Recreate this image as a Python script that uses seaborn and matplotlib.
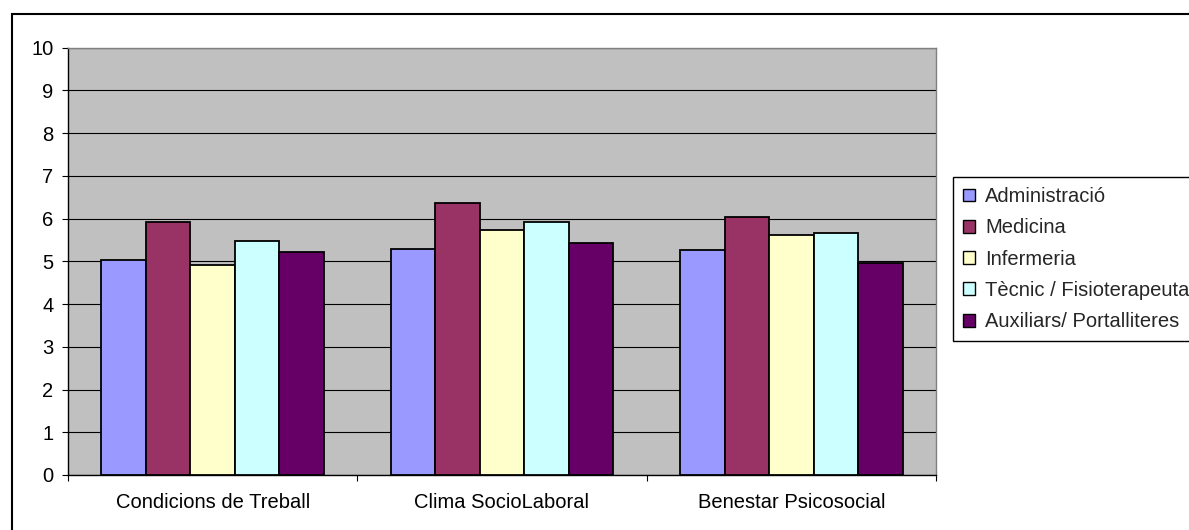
import matplotlib
matplotlib.use("Agg")
import matplotlib.pyplot as plt
from matplotlib.patches import Rectangle
import pandas as pd
import seaborn as sns

# Dimensions avaluades i grups professionals
categories = ["Condicions de Treball", "Clima SocioLaboral", "Benestar Psicosocial"]
grups = ["Administració", "Medicina", "Infermeria", "Tècnic / Fisioterapeuta",
         "Auxiliars/ Portalliteres"]

administracio = [5.03, 5.29, 5.26]
medicina = [5.92, 6.37, 6.04]
infermeria = [4.91, 5.74, 5.62]
tecnic = [5.48, 5.93, 5.67]
auxiliars = [5.22, 5.44, 4.96]

colors = ["#9999FF", "#993366", "#FFFFCC", "#CCFFFF", "#660066"]
y_ticks = list(range(0, 11))

series = [administracio, medicina, infermeria, tecnic, auxiliars]
rows = []
for grup, valors in zip(grups, series):
    for cat, v in zip(categories, valors):
        rows.append({"categoria": cat, "grup": grup, "valor": v})
df = pd.DataFrame(rows)

sns.set_theme(style="white")
plt.rcParams["font.family"] = ["Liberation Sans", "DejaVu Sans"]
FS = 14.5

fig = plt.figure(figsize=(11.89, 5.30), dpi=100)
ax = fig.add_axes([68 / 1189, 1 - 475 / 530, (936 - 68) / 1189, (475 - 47.7) / 530])
ax.set_facecolor("#C0C0C0")

sns.barplot(data=df, x="categoria", y="valor", hue="grup", order=categories,
            hue_order=grups, palette=colors, width=5 / 6.5, gap=0,
            edgecolor="black", linewidth=1.3, errorbar=None, saturation=1,
            ax=ax, zorder=3)

ax.set_ylim(0, 10)
ax.set_xlim(-0.5, 2.5)
ax.set_yticks(y_ticks)
ax.yaxis.grid(True, color="black", linewidth=0.8, zorder=0)
ax.set_axisbelow(True)
ax.set_xlabel("")
ax.set_ylabel("")

ax.tick_params(axis="y", which="major", left=True, length=4.5, width=0.8,
               color="black", direction="out", pad=6, labelsize=FS,
               labelcolor="black")
ax.tick_params(axis="x", which="major", length=0, pad=13, labelsize=FS,
               labelcolor="black")
ax.set_xticks([-0.5, 0.5, 1.5, 2.5], minor=True)
ax.tick_params(axis="x", which="minor", bottom=True, length=4.5, width=0.8,
               color="black", direction="out")

for side in ["left", "bottom"]:
    ax.spines[side].set_color("black")
    ax.spines[side].set_linewidth(1.0)
for side in ["top", "right"]:
    ax.spines[side].set_color("#808080")
    ax.spines[side].set_linewidth(1.0)

handles, labels = ax.get_legend_handles_labels()
ax.legend(handles, labels, loc="upper left",
          bbox_to_anchor=(953 / 1189, 1 - 177 / 530),
          bbox_transform=fig.transFigure, fontsize=FS, frameon=True,
          fancybox=False, shadow=False, edgecolor="black", framealpha=1,
          borderpad=0.5, handlelength=0.6, handleheight=0.6,
          handletextpad=0.5, labelspacing=0.61, borderaxespad=0)
leg = ax.get_legend()
leg.get_frame().set_linewidth(1.0)
for h in leg.legend_handles:
    h.set_edgecolor("black")
    h.set_linewidth(1.0)

# Marc exterior del gràfic
fig.patches.append(Rectangle((11.5 / 1189, -0.1), 1.2, 1.1 - 14 / 530,
                             transform=fig.transFigure, fill=False,
                             edgecolor="black", linewidth=1.5, zorder=10))

fig.savefig("out.png", dpi=100)
